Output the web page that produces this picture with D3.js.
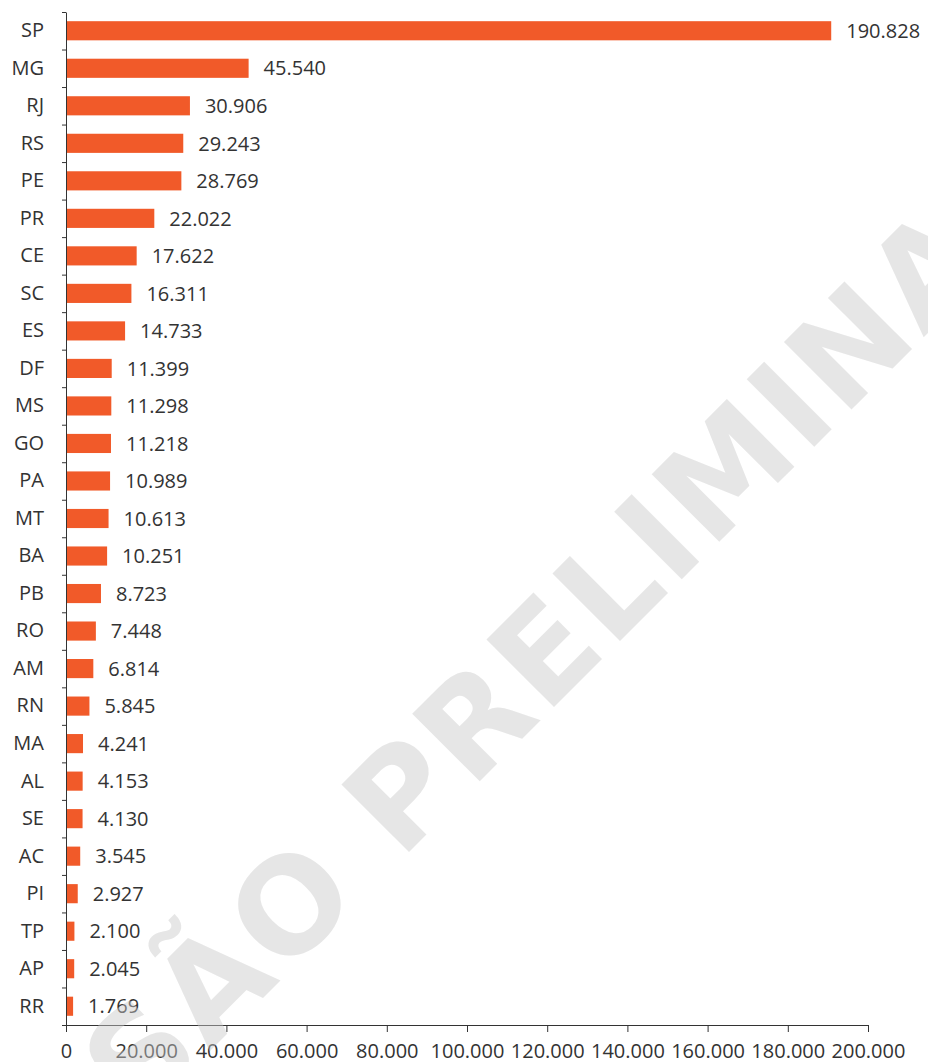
<!DOCTYPE html>
<html>
<head>
<meta charset="utf-8">
<script src="https://cdn.jsdelivr.net/npm/d3@7"></script>
<style>
  html, body { margin: 0; padding: 0; background: #fff; }
  svg { display: block; font-family: "Open Sans", sans-serif; }
  .axis path, .axis line { stroke: #333; }
</style>
</head>
<body>
<svg id="chart" width="928" height="1062"></svg>
<script>
const states = ["SP","MG","RJ","RS","PE","PR","CE","SC","ES","DF","MS","GO","PA","MT","BA","PB","RO","AM","RN","MA","AL","SE","AC","PI","TP","AP","RR"];
const values = [190828,45540,30906,29243,28769,22022,17622,16311,14733,11399,11298,11218,10989,10613,10251,8723,7448,6814,5845,4241,4153,4130,3545,2927,2100,2045,1769];
const xTicks = [0,20000,40000,60000,80000,100000,120000,140000,160000,180000,200000];
const watermarkText = "VERSÃO PRELIMINAR";

const data = states.map((s, i) => ({ state: s, value: values[i] }));

const ptBR = d3.formatLocale({ decimal: ",", thousands: ".", grouping: [3], currency: ["R$ ", ""] });
const fmt = ptBR.format(",d");

const svg = d3.select("#chart");
const m = { left: 66, right: 868, top: 12, bottom: 1025 };

const x = d3.scaleLinear().domain([0, 200000]).range([m.left, m.right]);
const y = d3.scaleBand().domain(states).range([m.top, m.bottom]).paddingInner(0.49).paddingOuter(0.245);
const yIdx = d3.scaleLinear().domain([0, states.length]).range([m.top, m.bottom]);

// bars
svg.append("g")
  .selectAll("rect")
  .data(data)
  .join("rect")
  .attr("x", x(0))
  .attr("y", d => y(d.state))
  .attr("width", d => x(d.value) - x(0))
  .attr("height", y.bandwidth())
  .attr("fill", "#f15a29");

// value labels
svg.append("g")
  .selectAll("text")
  .data(data)
  .join("text")
  .attr("x", d => x(d.value) + 15)
  .attr("y", d => y(d.state) + y.bandwidth() / 2)
  .attr("dy", "0.36em")
  .attr("font-size", 20)
  .attr("fill", "#333")
  .text(d => fmt(d.value));

// left axis: labels centred on bands
const yAxis = svg.append("g")
  .attr("class", "axis")
  .attr("transform", `translate(${m.left},0)`)
  .call(d3.axisLeft(y).tickSize(0).tickPadding(22).tickSizeOuter(0));
yAxis.select(".domain").remove();
yAxis.selectAll("text").attr("font-size", 20).attr("fill", "#333").attr("font-family", "Open Sans, sans-serif");

// left axis: ticks at band boundaries
svg.append("g")
  .attr("class", "axis")
  .attr("transform", `translate(${m.left},0)`)
  .call(d3.axisLeft(yIdx).tickValues(d3.range(states.length + 1)).tickSize(4).tickSizeOuter(0).tickFormat(""));

// bottom axis
const xAxis = svg.append("g")
  .attr("class", "axis")
  .attr("transform", `translate(0,${m.bottom})`)
  .call(d3.axisBottom(x).tickValues(xTicks).tickFormat(fmt).tickSize(7).tickSizeOuter(0).tickPadding(12));
xAxis.selectAll("text").attr("font-size", 20).attr("fill", "#333").attr("font-family", "Open Sans, sans-serif");

// watermark: place so the "P" of PRELIMINAR sits where it does in the original
const wm = svg.append("text")
  .attr("font-family", "DejaVu Sans, sans-serif")
  .attr("font-weight", "bold")
  .attr("font-size", 131)
  .attr("letter-spacing", 4)
  .attr("fill", "#c8c8c8")
  .attr("fill-opacity", 0.46)
  .text(watermarkText);
const pOffset = wm.node().getSubStringLength(0, watermarkText.indexOf("P")) + 12;
wm.attr("transform", `translate(409,852) rotate(-45) translate(${-pOffset},0)`);
</script>
</body>
</html>
